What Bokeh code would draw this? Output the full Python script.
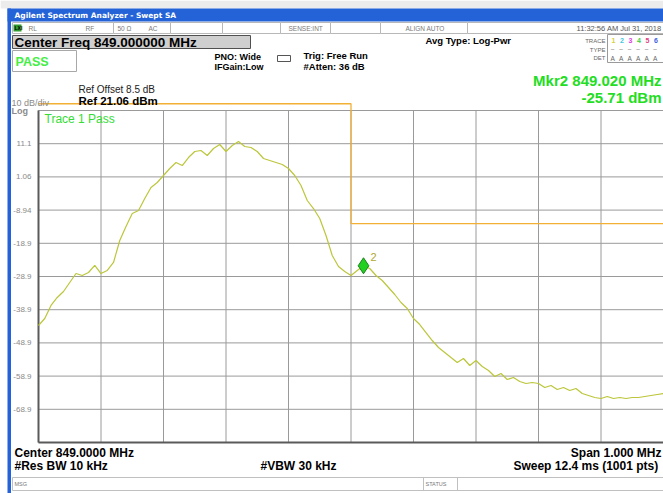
from bokeh.plotting import figure
from bokeh.models import Range1d, Label, BoxAnnotation
from bokeh.core.properties import value
from bokeh.embed import file_html
from bokeh.resources import INLINE

# ---------------- data ----------------
CENTER_MHZ = 849.0
SPAN_MHZ = 1.0
REF_DBM = 21.06
DB_PER_DIV = 10.0

FREQ_OFFSET_KHZ = [
    -500, -490, -480, -470, -460, -450, -440, -430, -420, -410,
    -400, -390, -380, -370, -360, -350, -340, -330, -320, -310,
    -300, -290, -280, -270, -260, -250, -240, -230, -220, -210,
    -200, -190, -180, -170, -160, -150, -140, -130, -120, -110,
    -100, -90, -80, -70, -60, -50, -40, -30, -20, -10,
    0, 10, 20, 30, 40, 50, 60, 70, 80, 90,
    100, 110, 120, 130, 140, 150, 160, 170, 180, 190,
    200, 210, 220, 230, 240, 250, 260, 270, 280, 290,
    300, 310, 320, 330, 340, 350, 360, 370, 380, 390,
    400, 410, 420, 430, 440, 450, 460, 470, 480, 490,
    500,
]
LEVEL_DBM = [
    -43.70, -41.59, -37.67, -35.26, -33.46, -30.75, -28.04, -28.64, -27.73, -25.60,
    -28.04, -27.13, -24.72, -18.10, -13.88, -9.96, -9.06, -5.45, -2.13, -0.63,
    1.48, 3.59, 5.40, 4.49, 6.90, 8.71, 9.01, 7.51, 9.61, 10.82,
    8.71, 10.52, 11.72, 10.22, 9.92, 8.71, 6.60, 6.00, 5.40, 4.80,
    3.59, 1.48, -1.53, -6.05, -8.46, -11.47, -16.59, -22.61, -25.93, -27.43,
    -28.64, -27.13, -25.71, -26.53, -28.64, -30.14, -32.25, -34.36, -36.77, -38.58,
    -41.59, -43.40, -45.81, -48.22, -50.32, -51.83, -53.34, -54.84, -53.64, -55.75,
    -54.24, -56.05, -57.25, -59.06, -58.16, -59.96, -59.36, -60.57, -61.17, -60.87,
    -61.17, -62.37, -61.77, -62.97, -62.37, -63.28, -62.67, -64.18, -64.78, -65.38,
    -65.69, -65.08, -65.69, -65.38, -65.69, -65.38, -65.38, -65.08, -64.78, -64.48,
    -64.18,
]

LIMIT_FREQ_MHZ = [848.5, 849.0, 849.0, 849.5]
LIMIT_DBM = [23.1, 23.1, -13.0, -13.0]

MARKER_FREQ_MHZ = 849.020
MARKER_DBM = -25.71
MARKER_NAME = "2"

Y_TICKS = [11.06, 1.06, -8.94, -18.94, -28.94, -38.94, -48.94, -58.94, -68.94]
Y_TICK_LABELS = ["11.1", "1.06", "-8.94", "-18.9", "-28.9", "-38.9", "-48.9", "-58.9", "-68.9"]
X_GRID_MHZ = [848.5, 848.6, 848.7, 848.8, 848.9, 849.0, 849.1, 849.2, 849.3, 849.4, 849.5]

# ---------------- geometry (page pixels of the analyzer screen) ----------------
W, H = 663, 493
GRAT_LEFT_PX = 38
GRAT_TOP_PX = 110
PX_PER_MHZ = 625.0
PX_PER_DB = 3.32

x_start = CENTER_MHZ - SPAN_MHZ / 2
x_stop = CENTER_MHZ + SPAN_MHZ / 2
bottom_dbm = REF_DBM - 10 * DB_PER_DIV


def dx(px):
    return x_start + (px - GRAT_LEFT_PX) / PX_PER_MHZ


def dy(py):
    return REF_DBM - (py - GRAT_TOP_PX) / PX_PER_DB


FONT = "Liberation Sans"

p = figure(width=W, height=H, output_backend="svg", toolbar_location=None,
           x_range=Range1d(dx(0), dx(W)), y_range=Range1d(dy(H), dy(0)),
           x_axis_location=None, y_axis_location=None,
           min_border_left=0, min_border_right=0, min_border_top=0, min_border_bottom=0)
p.outline_line_color = None
p.background_fill_color = "white"
p.border_fill_color = "white"
p.grid.visible = False


def box(l, r, t, b, fill, line=None, lw=1):
    p.add_layout(BoxAnnotation(left=dx(l), right=dx(r), top=dy(t), bottom=dy(b),
                               fill_color=fill, fill_alpha=1 if fill else 0,
                               line_color=line, line_alpha=1 if line else 0, line_width=lw,
                               level="underlay"))


def text(x, y, s, size="9px", color="#000000", bold=False, align="left", font=FONT):
    p.add_layout(Label(x=dx(x), y=dy(y), text=s, text_font=font, text_font_size=size,
                       text_color=color, text_font_style="bold" if bold else "normal",
                       text_align=align, text_baseline="middle"))


# graticule
grid_y = [REF_DBM] + Y_TICKS
p.segment(x0=[x_start] * len(grid_y), x1=[x_stop] * len(grid_y), y0=grid_y, y1=grid_y,
          line_color="#9a9a9a", line_width=1)
p.segment(x0=X_GRID_MHZ, x1=X_GRID_MHZ, y0=[bottom_dbm] * len(X_GRID_MHZ), y1=[REF_DBM] * len(X_GRID_MHZ),
          line_color="#9a9a9a", line_width=1)
p.segment(x0=[x_start, x_start], x1=[x_start, x_stop], y0=[bottom_dbm, bottom_dbm],
          y1=[REF_DBM, bottom_dbm], line_color="#5a5a5a", line_width=2)
p.text(x=[dx(31)] * len(Y_TICKS), y=Y_TICKS, text=Y_TICK_LABELS, text_align="right",
       text_baseline="middle", text_font=value(FONT), text_font_size="8px", text_color="#8a8a8a")

# limit line
p.line(LIMIT_FREQ_MHZ, LIMIT_DBM, line_color="#f2b035", line_width=1.3)

# trace
freq_mhz = [CENTER_MHZ + k / 1000.0 for k in FREQ_OFFSET_KHZ]
p.line(freq_mhz, LEVEL_DBM, line_color="#bcc63a", line_width=1.2)

# marker
p.scatter([MARKER_FREQ_MHZ], [MARKER_DBM], marker="diamond", size=16,
          fill_color="#22d022", line_color="#1a801a", line_width=1)
p.add_layout(Label(x=MARKER_FREQ_MHZ, y=MARKER_DBM, x_offset=7, y_offset=5, text=MARKER_NAME,
                   text_font=FONT, text_font_size="11px", text_color="#b0a830"))

# screen frame
box(0, W, 0, 8, "#ececec")
box(7, W, 8, 21, "#2462d8")
box(7, 10.5, 8, H, "#2462d8")
text(14, 14.5, "Agilent Spectrum Analyzer - Swept SA", size="7.5px", color="white", bold=True,
     font="DejaVu Sans")

# status row
for l, r in [(12, 113), (113, 170), (170, 222), (222, 280), (280, 330), (330, 380), (380, 467), (467, 670)]:
    box(l, r, 22, 33, "white", "#b8b8b8")
box(13, 21, 24, 31, "#2f9a2f")
text(14, 27.5, "LXI", size="5px", color="#000000", bold=True)
for x, s in [(28, "RL"), (85, "RF"), (117, "50 Ω"), (148, "AC"), (288, "SENSE:INT"), (405, "ALIGN AUTO")]:
    text(x, 27.5, s, size="6.5px", color="#7a7a7a")
text(661, 27.5, "11:32:56 AM Jul 31, 2018", size="7.5px", color="#555555", align="right")

# center freq & pass
box(12, 250, 35, 48, "#cfcfcf", "#505050")
text(14, 41.5, "Center Freq 849.000000 MHz", size="13.5px", bold=True)
box(12, 76, 50, 71, "white", "#a8a8a8")
text(15, 61, "PASS", size="12.5px", color="#44ee44", bold=True)

text(214, 56, "PNO: Wide", size="9px", bold=True)
text(214, 66, "IFGain:Low", size="9px", bold=True)
box(277, 290, 55, 61, None, "#555555")
text(303, 55, "Trig: Free Run", size="9.5px", bold=True)
text(303, 66, "#Atten: 36 dB", size="9.5px", bold=True)
text(425, 40, "Avg Type: Log-Pwr", size="9.5px", bold=True)

# trace info box
box(607, 670, 34, 62, "white", "#9a9a9a")
text(605, 40, "TRACE", size="6px", color="#666666", align="right")
text(605, 49, "TYPE", size="6px", color="#666666", align="right")
text(605, 57.5, "DET", size="6px", color="#666666", align="right")
for i, (d, c) in enumerate(zip(["1", "2", "3", "4", "5", "6"],
                               ["#d8d040", "#40c8e0", "#e040e0", "#40d040", "#e04080", "#4060e0"])):
    text(611 + 8.5 * i, 40, d, size="7px", color=c, bold=True)
    text(610 + 8.5 * i, 49, "~", size="7px", color="#888888")
    text(610 + 8.5 * i, 57.5, "A", size="6.5px", color="#666666")

# marker readout
text(661, 80, "Mkr2 849.020 MHz", size="15px", color="#22dd22", bold=True, align="right")
text(661, 97, "-25.71 dBm", size="15px", color="#22dd22", bold=True, align="right")

# ref
text(78, 89, "Ref Offset 8.5 dB", size="10px", color="#222222")
text(78, 100.5, "Ref 21.06 dBm", size="11.5px", bold=True)
text(11, 102, "10 dB/div", size="9px", color="#8a8a8a")
text(11, 110, "Log", size="9px", color="#8a8a8a", bold=True)
text(44, 118, "Trace 1 Pass", size="12px", color="#33dd33")

# footer
text(14, 452, "Center 849.0000 MHz", size="12px", bold=True)
text(14, 465, "#Res BW 10 kHz", size="12px", bold=True)
text(260, 465, "#VBW 30 kHz", size="12px", bold=True)
text(661, 452, "Span 1.000 MHz", size="12px", bold=True, align="right")
text(661, 465, "Sweep  12.4 ms (1001 pts)", size="12px", bold=True, align="right")
box(12, 670, 477, 490, "white", "#c0c0c0")
box(423, 457, 477, 490, None, "#c0c0c0")
text(14, 483.5, "MSG", size="5.5px", color="#777777")
text(425, 483.5, "STATUS", size="5.5px", color="#777777")

open("out.html", "w").write(file_html(p, INLINE))
